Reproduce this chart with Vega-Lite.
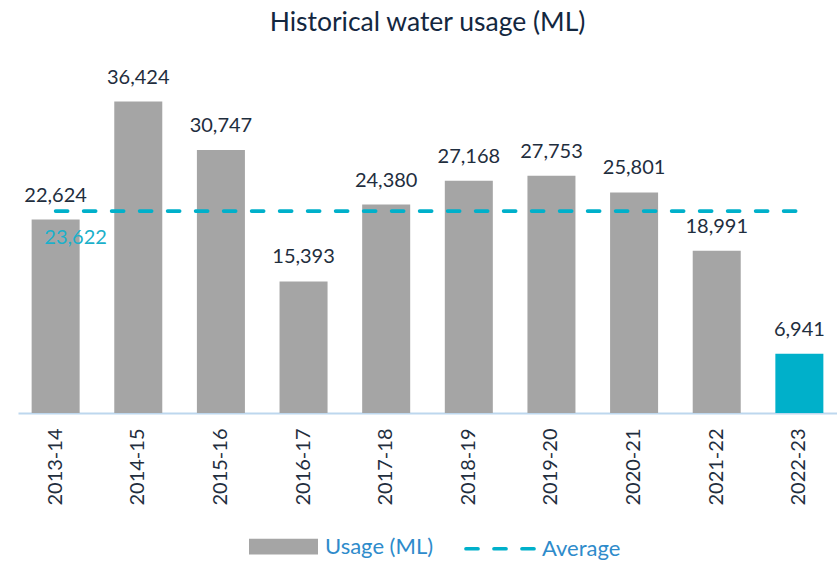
{
  "$schema": "https://vega.github.io/schema/vega-lite/v6.json",
  "autosize": {"type": "none"},
  "padding": {"left": 18, "top": 71, "right": 0, "bottom": 149},
  "width": 819,
  "height": 342,
  "background": "white",
  "title": {
    "text": "Historical water usage (ML)",
    "font": "Lato",
    "fontSize": 26.5,
    "fontWeight": "normal",
    "color": "#13273F",
    "anchor": "middle",
    "baseline": "alphabetic",
    "offset": 10
  },
  "data": {
    "values": [
      {"year": "2013-14", "usage": 22624, "avg": 23622, "series": "Usage (ML)", "highlight": false},
      {"year": "2014-15", "usage": 36424, "avg": 23622, "series": "Usage (ML)", "highlight": false},
      {"year": "2015-16", "usage": 30747, "avg": 23622, "series": "Usage (ML)", "highlight": false},
      {"year": "2016-17", "usage": 15393, "avg": 23622, "series": "Usage (ML)", "highlight": false},
      {"year": "2017-18", "usage": 24380, "avg": 23622, "series": "Usage (ML)", "highlight": false},
      {"year": "2018-19", "usage": 27168, "avg": 23622, "series": "Usage (ML)", "highlight": false},
      {"year": "2019-20", "usage": 27753, "avg": 23622, "series": "Usage (ML)", "highlight": false},
      {"year": "2020-21", "usage": 25801, "avg": 23622, "series": "Usage (ML)", "highlight": false},
      {"year": "2021-22", "usage": 18991, "avg": 23622, "series": "Usage (ML)", "highlight": false},
      {"year": "2022-23", "usage": 6941, "avg": 23622, "series": "Usage (ML)", "highlight": true}
    ]
  },
  "encoding": {
    "x": {
      "field": "year",
      "type": "nominal",
      "sort": null,
      "scale": {"paddingInner": 0.419, "paddingOuter": 0.165},
      "axis": {
        "title": null,
        "labelAngle": -90,
        "labelFont": "Lato",
        "labelFontSize": 20,
        "labelColor": "#1F2E3E",
        "labelPadding": 15,
        "ticks": false,
        "domainColor": "#BDD7EE",
        "domainWidth": 2,
        "grid": false
      }
    }
  },
  "layer": [
    {
      "mark": {"type": "bar"},
      "encoding": {
        "y": {"field": "usage", "type": "quantitative", "scale": {"domain": [0, 40000]}, "axis": null},
        "color": {
          "condition": {"test": "datum.highlight", "value": "#00B0CA"},
          "field": "series",
          "type": "nominal",
          "scale": {"domain": ["Usage (ML)", "Average"], "range": ["#A5A5A5", "#00B0CA"]},
          "legend": {
            "title": null,
            "orient": "none",
            "legendX": 229,
            "legendY": 439,
            "direction": "horizontal",
            "labelFont": "Lato",
            "labelFontSize": 22,
            "labelColor": "#2E8BCB",
            "labelOffset": 5,
            "columnPadding": 24,
            "symbolSize": 4761,
            "encode": {
              "symbols": {
                "update": {
                  "shape": {"signal": "datum.value === 'Average' ? 'M-1,0H1' : 'M-1,-0.23H1V0.23H-1Z'"},
                  "fill": {"signal": "datum.value === 'Average' ? 'transparent' : '#A5A5A5'"},
                  "stroke": {"signal": "datum.value === 'Average' ? '#00B0CA' : 'transparent'"},
                  "strokeWidth": {"value": 3.7},
                  "strokeDash": {"signal": "datum.value === 'Average' ? [12, 16] : [1, 0]"},
                  "strokeCap": {"value": "round"},
                  "opacity": {"value": 1}
                }
              }
            }
          }
        }
      }
    },
    {
      "mark": {"type": "line", "color": "#00B0CA", "strokeWidth": 3.7, "strokeDash": [12, 16], "strokeCap": "round"},
      "encoding": {
        "y": {"field": "avg", "type": "quantitative", "scale": {"domain": [0, 40000]}, "axis": null}
      }
    },
    {
      "mark": {"type": "text", "font": "Lato", "fontSize": 20, "color": "#1F2E3E", "baseline": "alphabetic", "dy": -18},
      "encoding": {
        "y": {"field": "usage", "type": "quantitative", "scale": {"domain": [0, 40000]}, "axis": null},
        "text": {"field": "usage", "type": "quantitative", "format": ",.0f"}
      }
    },
    {
      "transform": [{"filter": "datum.year === '2013-14'"}],
      "mark": {"type": "text", "font": "Lato", "fontSize": 20, "color": "#1BB0CA", "baseline": "alphabetic", "dx": 20, "dy": 33},
      "encoding": {
        "y": {"field": "avg", "type": "quantitative", "scale": {"domain": [0, 40000]}, "axis": null},
        "text": {"field": "avg", "type": "quantitative", "format": ",.0f"}
      }
    }
  ],
  "config": {
    "view": {"stroke": null},
    "font": "Lato"
  }
}
